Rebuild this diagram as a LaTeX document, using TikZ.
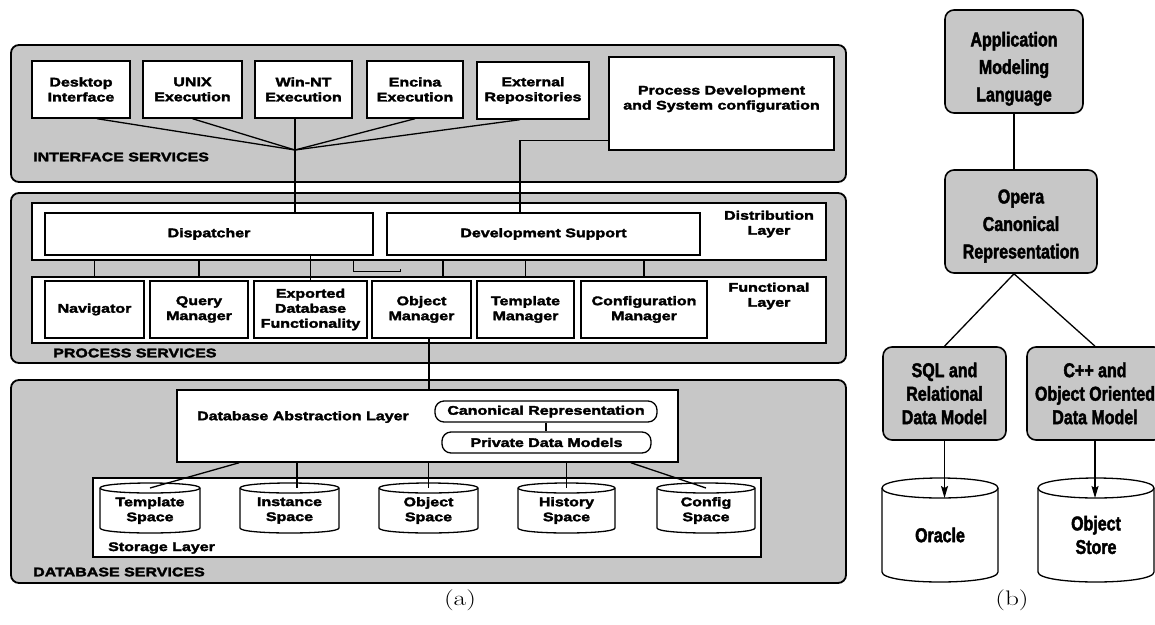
\documentclass[tikz,border=0pt]{standalone}
\usepackage{fontspec}
\usepackage{graphicx}
\usetikzlibrary{calc,arrows.meta}
\newfontfamily\hv[FakeStretch=1.28, BoldFeatures={FakeBold=2.6}]{Liberation Sans}
\newfontfamily\cn[FakeStretch=0.8, BoldFeatures={FakeBold=2}]{Liberation Sans}
\newcommand\hvf{\hv\bfseries\fontsize{12.5}{15}\selectfont}
\newcommand\cnf{\cn\bfseries\fontsize{20}{23.5}\selectfont}
\newcommand\cnfw{\cn\bfseries\fontsize{20}{27.5}\selectfont}
\definecolor{shade}{gray}{0.78}
% cylinder: name, cx, top, width, height, ry, node style, text
\newcommand\mycyl[8]{%
  \begin{scope}[shift={(#2,#3)}]
    \filldraw[cylst] ({-#4/2},#6) -- ({-#4/2},{#5-#6}) .. controls ({-#4/2},{#5+#6/3}) and ({#4/2},{#5+#6/3}) .. ({#4/2},{#5-#6}) -- ({#4/2},#6) .. controls ({#4/2},{-#6/3}) and ({-#4/2},{-#6/3}) .. cycle;
    \draw[cylst] ({-#4/2},#6) .. controls ({-#4/2},{7*#6/3}) and ({#4/2},{7*#6/3}) .. ({#4/2},#6);
    \coordinate (#1-top) at (0,#6);
    \coordinate (#1-front) at (0,{2*#6});
    \node[#7] (#1) at (0,{#5/2+#6/2}) {#8};
  \end{scope}}
\begin{document}
\begin{tikzpicture}[x=1pt,y=-1pt,
  wh/.style 2 args={minimum width=#1, minimum height=#2},
  panel/.style={draw, line width=1.8pt, rounded corners=8pt, fill=shade},
  wbox/.style={draw, fill=white, line width=1.4pt, inner sep=0pt, align=center, font=\hvf},
  lyr/.style={draw, fill=white, line width=1.4pt, inner sep=0pt},
  rbox/.style={draw, fill=white, line width=1.3pt, rounded corners=9pt, inner sep=0pt, font=\hvf},
  lbl/.style={anchor=west, inner sep=0pt, font=\hvf},
  txt/.style={inner sep=0pt, align=center, font=\hvf},
  conn/.style={line width=1.3pt},
  cylst/.style={draw, fill=white, line width=1.3pt},
  ctxt/.style={inner sep=0pt, align=center, font=\hvf},
  btxt/.style={inner sep=0pt, align=center, font=\cnf},
  bbox/.style={draw, fill=shade, line width=1.6pt, rounded corners=9pt, inner sep=0pt, align=center, font=\cnf},
  arr/.style={-{Stealth[length=12pt,width=7pt,inset=2pt]}},
  captxt/.style={inner sep=0pt, font=\fontsize{21}{21}\selectfont}
]
\useasboundingbox (0,0) rectangle (1155,624);
\clip (0,0) rectangle (1155,624);
\fill[white] (0,0) rectangle (1155,624);

% ---------- (a) Interface services
\path[panel] (11,45) rectangle (846,182);
\node[wbox, wh={98}{57}] (desk) at (81,89.5) {Desktop\\Interface};
\node[wbox, wh={99}{57}] (unix) at (192.5,89.5) {UNIX\\Execution};
\node[wbox, wh={97}{57}] (wint) at (303.5,89.5) {Win-NT\\Execution};
\node[wbox, wh={96}{57}] (enc) at (415,89.5) {Encina\\Execution};
\node[wbox, wh={112}{57}] (ext) at (533,90.5) {External\\Repositories};
\node[wbox, wh={225}{93}, text depth=12pt] (pdev) at (721.5,103.5) {Process Development\\and System configuration};
\node[lbl] (isv) at (33,157) {INTERFACE SERVICES};

% ---------- Process services
\path[panel] (11,193) rectangle (846,363);
\node[lyr, wh={794}{57}] (dist) at (429,231.5) {};
\node[wbox, wh={328}{42}] (disp) at (209,234) {Dispatcher};
\node[wbox, wh={313}{42}] (devs) at (543.5,234) {Development Support};
\node[txt] (distl) at (769,224) {Distribution\\Layer};
\node[lyr, wh={794}{66}] (func) at (429,310) {};
\node[wbox, wh={99}{57}] (nav) at (94.5,309.5) {Navigator};
\node[wbox, wh={98}{57}] (qry) at (199,309.5) {Query\\Manager};
\node[wbox, wh={113}{57}] (exp) at (310.5,309.5) {Exported\\Database\\Functionality};
\node[wbox, wh={99}{57}] (objm) at (421.5,309.5) {Object\\Manager};
\node[wbox, wh={97}{57}] (tmpm) at (525.5,309.5) {Template\\Manager};
\node[wbox, wh={126}{57}] (cfgm) at (644,309.5) {Configuration\\Manager};
\node[txt] (funcl) at (769,296) {Functional\\Layer};
\node[lbl] (psv) at (53,353) {PROCESS SERVICES};

% ---------- Database services
\path[panel] (11,380) rectangle (846,583);
\node[lyr, wh={501}{72}] (dbal) at (427.5,426) {};
\node[txt] (dbalt) at (303,417) {Database Abstraction Layer};
\node[rbox, wh={222}{21}] (canon) at (546,411.5) {Canonical Representation};
\node[rbox, wh={209}{21}] (priv) at (546.5,442.5) {Private Data Models};
\node[lyr, wh={668}{79}] (stor) at (427,517.5) {};
\mycyl{tmps}{150}{483}{100}{50}{5}{ctxt}{Template\\Space}
\mycyl{inss}{289.5}{483}{99}{50}{5}{ctxt}{Instance\\Space}
\mycyl{objs}{428.5}{483}{99}{50}{5}{ctxt}{Object\\Space}
\mycyl{hist}{566.5}{483}{97}{50}{5}{ctxt}{History\\Space}
\mycyl{cfgs}{706}{483}{98}{50}{5}{ctxt}{Config\\Space}
\node[lbl] (stl) at (108,548) {Storage Layer};
\node[lbl] (dsv) at (33,572) {DATABASE SERVICES};

% ---------- (a) connectors
\coordinate (J) at (295,150);
\draw[conn] ($(desk.south)+(16,0)$) -- (J);
\draw[conn] (unix.south) -- (J);
\draw[conn] (enc.south) -- (J);
\draw[conn] ($(ext.south)+(-13,0)$) -- (J);
\draw[conn] (wint.south -| J) -- (J |- disp.north);
\draw[conn] ($(pdev.south west)+(0,-10)$) -| ($(devs.north)+(-23.5,0)$);
\foreach \n in {nav,qry,tmpm,cfgm}
  \draw[conn] (dist.south -| \n.north) -- (\n.north |- func.north);
\path ($(objm.north)+(21.5,0)$) coordinate (o1);
\draw[conn] (o1 |- dist.south) -- (o1 |- func.north);
\draw[conn] (exp.north |- disp.south) -- (exp.north);
\path ($(disp.south east)+(-20,0)$) coordinate (o2);
\draw[conn] (o2 |- dist.south) -- ++(0,11) -| ++(47,-3);
\path ($(objm.south)+(7.5,0)$) coordinate (o3);
\draw[conn] (o3) -- (o3 |- dbal.north);
\draw[conn] (canon.south) -- (canon.south |- priv.north);
\draw[conn] ($(dbal.south west)+(63,0)$) -- (tmps-top);
\path ($(inss-top)+(7.5,0)$) coordinate (o4);
\draw[conn] (o4 |- dbal.south) -- (o4);
\draw[conn] (objs-top |- dbal.south) -- (objs-top);
\draw[conn] (hist-top |- dbal.south) -- (hist-top);
\draw[conn] ($(dbal.south east)+(-48,0)$) -- (cfgs-top);

\node[captxt] (capa) at (460,600) {\scalebox{1.3}[1]{(a)}};

% ---------- (b)
\node[bbox, font=\cnfw, wh={138}{103}, text height=84pt] (aml) at (1014,61.5) {Application\\Modeling\\Language};
\node[bbox, font=\cnfw, wh={152}{103}, text height=78pt] (opera) at (1021,221.5) {Opera\\Canonical\\Representation};
\node[bbox, wh={123}{93}] (sql) at (944.5,393.5) {SQL and\\Relational\\Data Model};
\node[bbox, wh={136}{93}] (cpp) at (1095,393.5) {C++ and\\Object Oriented\\Data Model};
\draw[conn] (aml.south) -- (aml.south |- opera.north);
\coordinate (ob) at (opera.south -| aml.south);
\draw[conn] (sql.north) -- (ob) -- (cpp.north);
\mycyl{orc}{940}{478}{116}{104}{10}{btxt}{Oracle}
\mycyl{ost}{1096}{478}{116}{104}{10}{btxt}{Object\\Store}
\draw[conn, arr] (sql.south) -- (sql.south |- orc-front);
\draw[conn, arr] (cpp.south) -- (cpp.south |- ost-front);
\node[captxt] (capb) at (1012,600) {\scalebox{1.3}[1]{(b)}};
\end{tikzpicture}
\end{document}
